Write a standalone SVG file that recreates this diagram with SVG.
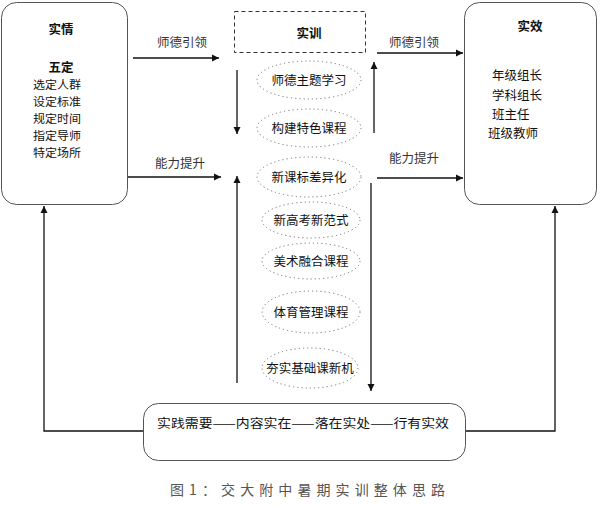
<svg xmlns="http://www.w3.org/2000/svg" width="604" height="508" viewBox="0 0 604 508">
<defs>
<marker id="ah" markerWidth="8" markerHeight="8" refX="7" refY="4" orient="auto" markerUnits="userSpaceOnUse">
<path d="M0,0.5 L7,4 L0,7.5 Z" fill="#111"/>
</marker>
<style>
.box{fill:#fff;stroke:#555;stroke-width:1}
.ell{fill:none;stroke:#777;stroke-width:1;stroke-dasharray:1.2 3}
.t{font-family:"Noto Sans CJK SC","Liberation Sans",sans-serif;font-size:12.5px;fill:#111}
.s{font-size:11.4px}
.b{font-weight:bold}
.lbl{font-family:"Noto Sans CJK SC","Liberation Sans",sans-serif;font-size:12.5px;fill:#333}
.c{stroke:#111;stroke-width:1.3;fill:none}
.m{text-anchor:middle}
.cap{font-family:"Noto Sans CJK SC","Liberation Serif",serif;font-size:14px;fill:#555}
</style>
</defs>
<rect width="604" height="508" fill="#fff"/>
<g id="connectors">
<line class="c" x1="133" y1="58" x2="219" y2="58" marker-end="url(#ah)"/>
<line class="c" x1="128" y1="177" x2="221" y2="177" marker-end="url(#ah)"/>
<line class="c" x1="377" y1="53" x2="463" y2="53" marker-end="url(#ah)"/>
<line class="c" x1="377" y1="178" x2="463" y2="178" marker-end="url(#ah)"/>
<line class="c" x1="237" y1="70" x2="237" y2="134" marker-end="url(#ah)"/>
<line class="c" x1="237" y1="383" x2="237" y2="176" marker-end="url(#ah)"/>
<line class="c" x1="374" y1="133" x2="374" y2="62" marker-end="url(#ah)"/>
<line class="c" x1="371" y1="183" x2="371" y2="391" marker-end="url(#ah)"/>
<polyline class="c" points="143,431 44,431 44,206" marker-end="url(#ah)"/>
<polyline class="c" points="466,431 555,431 555,206" marker-end="url(#ah)"/>
<text class="lbl" x="157" y="47">师德引领</text>
<text class="lbl" x="155" y="168">能力提升</text>
<text class="lbl" x="389" y="47">师德引领</text>
<text class="lbl" x="389" y="163">能力提升</text>
</g>
<g id="shiqing">
<rect class="box" x="1.5" y="2.5" width="126" height="202" rx="15"/>
<text class="t b m" x="61" y="34">实情</text>
<text class="t b m" x="61" y="72">五定</text>
<text class="t s" x="33" y="89" textLength="48" lengthAdjust="spacingAndGlyphs">选定人群</text>
<text class="t s" x="33" y="106" textLength="48" lengthAdjust="spacingAndGlyphs">设定标准</text>
<text class="t s" x="33" y="123" textLength="48" lengthAdjust="spacingAndGlyphs">规定时间</text>
<text class="t s" x="33" y="140" textLength="48" lengthAdjust="spacingAndGlyphs">指定导师</text>
<text class="t s" x="33" y="157" textLength="48" lengthAdjust="spacingAndGlyphs">特定场所</text>
</g>
<g id="shixun">
<rect x="234.5" y="11.5" width="131" height="41" fill="none" stroke="#333" stroke-width="1" stroke-dasharray="4 3"/>
<text class="t b m" x="309" y="38">实训</text>
</g>
<g id="e1"><ellipse class="ell" cx="309" cy="80" rx="52" ry="19"/><text class="t m" x="309" y="85">师德主题学习</text></g>
<g id="e2"><ellipse class="ell" cx="309" cy="128" rx="52" ry="19"/><text class="t m" x="309" y="133">构建特色课程</text></g>
<g id="e3"><ellipse class="ell" cx="309" cy="177" rx="52" ry="20"/><text class="t m" x="309" y="182">新课标差异化</text></g>
<g id="e4"><ellipse class="ell" cx="311" cy="220" rx="49" ry="18"/><text class="t m" x="311" y="225">新高考新范式</text></g>
<g id="e5"><ellipse class="ell" cx="311" cy="261" rx="49" ry="18"/><text class="t m" x="311" y="266">美术融合课程</text></g>
<g id="e6"><ellipse class="ell" cx="311" cy="312" rx="49" ry="21"/><text class="t m" x="311" y="317">体育管理课程</text></g>
<g id="e7"><ellipse class="ell" cx="310" cy="368" rx="48" ry="20"/><text class="t m" x="310" y="373">夯实基础课新机</text></g>
<g id="shixiao">
<rect class="box" x="464.5" y="2.5" width="132" height="202" rx="15"/>
<text class="t b m" x="530" y="31">实效</text>
<text class="t" x="492" y="80">年级组长</text>
<text class="t" x="492" y="100">学科组长</text>
<text class="t" x="492" y="119">班主任</text>
<text class="t" x="488" y="138">班级教师</text>
</g>
<g id="bottom">
<rect class="box" x="143.5" y="403.5" width="322" height="57" rx="15"/>
<text class="t" x="157" y="428" textLength="292" lengthAdjust="spacingAndGlyphs">实践需要——内容实在——落在实处——行有实效</text>
</g>
<text class="cap" x="170" y="495" textLength="275" lengthAdjust="spacing">图1：交大附中暑期实训整体思路</text>
</svg>
